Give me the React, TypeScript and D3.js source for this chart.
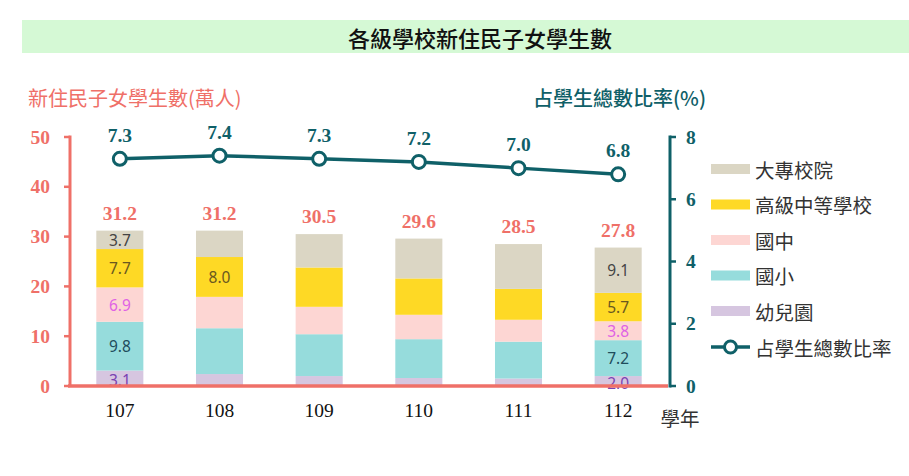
import React from "react";
import * as d3 from "d3";

const years = ["107", "108", "109", "110", "111", "112"];
const seriesNames = ["幼兒園", "國小", "國中", "高級中等學校", "大專校院"];
const kindergarten = [3.1, 2.4, 2.0, 1.6, 1.5, 2.0];
const elementary = [9.8, 9.2, 8.4, 7.8, 7.4, 7.2];
const juniorHigh = [6.9, 6.3, 5.5, 4.9, 4.4, 3.8];
const seniorHigh = [7.7, 8.0, 7.9, 7.3, 6.2, 5.7];
const college = [3.7, 5.3, 6.7, 8.0, 9.0, 9.1];
const totals = [31.2, 31.2, 30.5, 29.6, 28.5, 27.8];
const ratio = [7.3, 7.4, 7.3, 7.2, 7.0, 6.8];
const leftTicks = [0, 10, 20, 30, 40, 50];
const rightTicks = [0, 2, 4, 6, 8];
// which segments carry a value label: [yearIndex, seriesIndex]
const labeledSegments: [number, number][] = [
  [0, 0], [0, 1], [0, 2], [0, 3], [0, 4],
  [1, 3],
  [5, 0], [5, 1], [5, 2], [5, 3], [5, 4],
];

const seriesValues = [kindergarten, elementary, juniorHigh, seniorHigh, college];
const fills = ["#d6c6e0", "#96dcdc", "#fdd6d3", "#fed925", "#dbd6c4"];
const labelColors = ["#7a42b2", "#1f4d5c", "#e062e4", "#6a5820", "#444444"];
const SALMON = "#ef7068";
const TEAL = "#0f6068";

export default function App() {
  const W = 909, H = 476;
  const x = d3.scaleBand<string>().domain(years).range([70, 668]).paddingInner(0.528).paddingOuter(0.264);
  const y = d3.scaleLinear().domain([0, 50]).range([386, 137]);
  const yR = d3.scaleLinear().domain([0, 8]).range([386, 137]);

  const table = years.map((yr, i) => {
    const row: any = { year: yr };
    seriesNames.forEach((s, k) => (row[s] = seriesValues[k][i]));
    return row;
  });
  const stacked = d3.stack<any>().keys(seriesNames)(table);

  const line = d3
    .line<number>()
    .x((_, i) => (x(years[i]) as number) + x.bandwidth() / 2)
    .y((d) => yR(d));

  const serif = "'Liberation Serif', 'DejaVu Serif', serif";
  const cjk = "'Noto Sans CJK TC', 'Noto Sans CJK SC', sans-serif";
  const sans = "'Noto Sans', 'Open Sans', sans-serif";

  const legendItems = [4, 3, 2, 1, 0];

  return (
    <svg width={W} height={H} style={{ position: "absolute", left: 0, top: 0, background: "#fff" }}>
      {/* Title */}
      <rect x={22} y={20} width={W - 22} height={33} fill="#d5f9d5" />
      <text x={480} y={37} textAnchor="middle" dominantBaseline="central" fontFamily={cjk} fontSize={22} fontWeight={500} fill="#111">
        各級學校新住民子女學生數
      </text>

      {/* axis titles */}
      <text x={28} y={97} dominantBaseline="central" fontFamily={cjk} fontSize={20} fill={SALMON}>
        新住民子女學生數(萬人)
      </text>
      <text x={533} y={97} dominantBaseline="central" fontFamily={cjk} fontSize={20} fill={TEAL} fontWeight={500}>
        占學生總數比率(%)
      </text>

      {/* bars */}
      {stacked.map((layer, k) =>
        layer.map((d, i) => (
          <rect
            key={`${k}-${i}`}
            x={x(years[i])}
            y={y(d[1])}
            width={x.bandwidth()}
            height={y(d[0]) - y(d[1])}
            fill={fills[k]}
          />
        ))
      )}

      {/* segment labels */}
      {labeledSegments.map(([i, k]) => {
        const d = stacked[k][i];
        return (
          <text
            key={`l-${i}-${k}`}
            x={(x(years[i]) as number) + x.bandwidth() / 2}
            y={(y(d[0]) + y(d[1])) / 2 + (k === 0 ? 2 : 0)}
            textAnchor="middle"
            dominantBaseline="central"
            fontFamily={sans}
            fontSize={15.5}
            fill={labelColors[k]}
          >
            {seriesValues[k][i].toFixed(1)}
          </text>
        );
      })}

      {/* totals */}
      {totals.map((t, i) => (
        <text
          key={`t-${i}`}
          x={(x(years[i]) as number) + x.bandwidth() / 2}
          y={y(t) - 11}
          textAnchor="middle"
          fontFamily={serif}
          fontWeight="bold"
          fontSize={19.5}
          fill={SALMON}
        >
          {t.toFixed(1)}
        </text>
      ))}

      {/* left axis */}
      <line x1={70} x2={70} y1={y(50) - 1.5} y2={y(0)} stroke={SALMON} strokeWidth={3} />
      {leftTicks.map((t) => (
        <g key={`lt-${t}`}>
          <line x1={64} x2={70} y1={y(t)} y2={y(t)} stroke={SALMON} strokeWidth={2.5} />
          <text
            x={50}
            y={y(t)}
            textAnchor="end"
            dominantBaseline="central"
            fontFamily={serif}
            fontWeight="bold"
            fontSize={19.5}
            fill={SALMON}
          >
            {t}
          </text>
        </g>
      ))}

      {/* right axis */}
      <line x1={670} x2={670} y1={yR(8) - 1.5} y2={yR(0) + 1.5} stroke={TEAL} strokeWidth={3} />
      {rightTicks.map((t) => (
        <g key={`rt-${t}`}>
          <line x1={670} x2={676} y1={yR(t)} y2={yR(t)} stroke={TEAL} strokeWidth={2.5} />
          <text
            x={686}
            y={yR(t)}
            textAnchor="start"
            dominantBaseline="central"
            fontFamily={serif}
            fontWeight="bold"
            fontSize={19.5}
            fill={TEAL}
          >
            {t}
          </text>
        </g>
      ))}

      {/* bottom axis */}
      <line x1={68} x2={668} y1={y(0)} y2={y(0)} stroke={SALMON} strokeWidth={3.5} />
      {years.map((yr) => (
        <text
          key={`x-${yr}`}
          x={(x(yr) as number) + x.bandwidth() / 2}
          y={417}
          textAnchor="middle"
          fontFamily={serif}
          fontSize={19.5}
          fill="#111"
        >
          {yr}
        </text>
      ))}
      <text x={680} y={417} textAnchor="middle" dominantBaseline="central" fontFamily={cjk} fontSize={19.5} fill="#333">
        學年
      </text>

      {/* ratio line */}
      <path d={line(ratio) || ""} fill="none" stroke={TEAL} strokeWidth={3.5} />
      {ratio.map((r, i) => {
        const cx = (x(years[i]) as number) + x.bandwidth() / 2;
        return (
          <g key={`r-${i}`}>
            <circle cx={cx} cy={yR(r)} r={6.5} fill="#fff" stroke={TEAL} strokeWidth={3} />
            <text
              x={cx}
              y={yR(r) - 17}
              textAnchor="middle"
              fontFamily={serif}
              fontWeight="bold"
              fontSize={19.5}
              fill={TEAL}
            >
              {r.toFixed(1)}
            </text>
          </g>
        );
      })}

      {/* legend */}
      {legendItems.map((k, j) => {
        const cy = 169 + j * 35.5;
        return (
          <g key={`lg-${k}`}>
            <rect x={711} y={cy - 5} width={39} height={10} fill={fills[k]} />
            <text x={755} y={cy} dominantBaseline="central" fontFamily={cjk} fontSize={19.5} fill="#333">
              {seriesNames[k]}
            </text>
          </g>
        );
      })}
      <g>
        <line x1={711} x2={750} y1={347} y2={347} stroke={TEAL} strokeWidth={3.5} />
        <circle cx={730.5} cy={347} r={6} fill="#fff" stroke={TEAL} strokeWidth={3} />
        <text x={755} y={347} dominantBaseline="central" fontFamily={cjk} fontSize={19.5} fill="#333">
          占學生總數比率
        </text>
      </g>
    </svg>
  );
}
